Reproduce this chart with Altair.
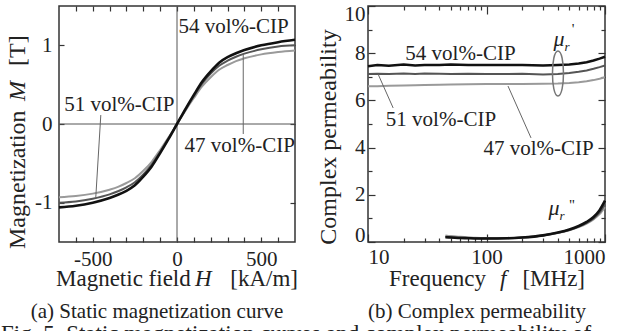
import altair as alt
import pandas as pd

FONT = "Liberation Serif"
INK = "#222222"

# ---------------- (a) static magnetization curves ----------------
H = [-700, -600, -500, -400, -350, -300, -250, -200, -150, -100, -50, 0,
     50, 100, 150, 200, 250, 300, 350, 400, 500, 600, 700]
M54 = [-1.06, -1.04, -1.0, -0.94, -0.9, -0.85, -0.78, -0.67, -0.54, -0.37, -0.19, 0.0,
       0.19, 0.37, 0.54, 0.67, 0.78, 0.85, 0.90, 0.94, 1.0, 1.04, 1.07]
M51 = [-1.0, -0.985, -0.95, -0.895, -0.855, -0.805, -0.74, -0.64, -0.515, -0.355, -0.18, 0.0,
       0.18, 0.355, 0.515, 0.64, 0.74, 0.805, 0.855, 0.895, 0.95, 0.985, 1.0]
M47 = [-0.93, -0.915, -0.885, -0.835, -0.8, -0.75, -0.69, -0.595, -0.48, -0.33, -0.17, 0.0,
       0.17, 0.33, 0.48, 0.595, 0.69, 0.75, 0.8, 0.835, 0.885, 0.915, 0.935]

# ---------------- (b) complex permeability ----------------
F1 = [10, 12, 15, 20, 25, 30, 40, 50, 70, 100, 150, 200, 300, 400, 500, 600, 700, 800, 900, 1000]
MU54 = [7.45, 7.5, 7.47, 7.52, 7.48, 7.5, 7.5, 7.52, 7.5, 7.5, 7.5, 7.5, 7.48, 7.5, 7.52, 7.56, 7.62, 7.69, 7.77, 7.85]
MU51 = [7.12, 7.13, 7.12, 7.14, 7.12, 7.14, 7.13, 7.12, 7.13, 7.12, 7.12, 7.13, 7.1, 7.12, 7.16, 7.21, 7.27, 7.34, 7.41, 7.48]
MU47 = [6.6, 6.6, 6.62, 6.63, 6.64, 6.65, 6.66, 6.67, 6.68, 6.69, 6.7, 6.7, 6.71, 6.72, 6.74, 6.77, 6.81, 6.86, 6.92, 6.98]

F2 = [45, 50, 60, 70, 80, 100, 150, 200, 300, 400, 500, 600, 700, 800, 900, 1000]
MI54 = [0.2, 0.19, 0.17, 0.16, 0.15, 0.15, 0.16, 0.19, 0.28, 0.4, 0.53, 0.68, 0.85, 1.06, 1.35, 1.75]
MI51 = [0.22, 0.2, 0.18, 0.17, 0.16, 0.15, 0.16, 0.19, 0.28, 0.39, 0.51, 0.65, 0.81, 1.0, 1.25, 1.6]
MI47 = [0.28, 0.25, 0.22, 0.2, 0.18, 0.17, 0.17, 0.2, 0.28, 0.38, 0.5, 0.63, 0.78, 0.96, 1.18, 1.48]

LABELS = ["54 vol%-CIP", "51 vol%-CIP", "47 vol%-CIP"]
COLORS = {"54": "#111111", "51": "#555555", "47": "#9a9a9a"}
WIDTHS = {"54": 2.6, "51": 2.0, "47": 2.0}

# annotation anchors (data coordinates)
A_TXT_H = [336, -342, 372]
A_TXT_M = [1.233, 0.241, -0.28]
A_LEAD = [(-452, 0.114, -482, -0.94), (393, 0.889, 393, -0.127)]

B_TXT_F = [60.3, 41.3, 274.7]
B_TXT_MU = [7.97, 5.17, 3.94]
B_LEAD = [(12.15, 7.12, 16.3, 5.68), (151.8, 6.61, 237.5, 4.41)]

one = pd.DataFrame({"k": [0]})
TICK_FS = 21


def ax(orient, values, labels=False, size=5, label_expr=None, pad=None, flush=False):
    kw = dict(orient=orient, values=values, tickSize={"expr": str(-size)},
              domain=False, grid=False, title=None, labels=labels,
              tickColor="#333333", tickWidth=1.2, labelFont=FONT,
              labelFontSize=TICK_FS, labelColor=INK)
    if label_expr:
        kw["labelExpr"] = label_expr
    if pad is not None:
        kw["labelPadding"] = pad
    if flush:
        kw["labelFlush"] = True
        kw["labelFlushOffset"] = 3
    return alt.Axis(**kw)


def txt(text, x, y, size=21, align="center", baseline="alphabetic", angle=0,
        italic=False, color=INK, opacity=1.0):
    kw = dict(text=text, font=FONT, fontSize=size, align=align, baseline=baseline,
              color=color, opacity=opacity)
    if angle:
        kw["angle"] = angle
    if italic:
        kw["fontStyle"] = "italic"
    return alt.Chart(one).mark_text(**kw).encode(x=alt.value(x), y=alt.value(y))


# ---------------- panel (a) ----------------
xa = alt.Scale(domain=[-700, 700], nice=False, zero=False)
ya = alt.Scale(domain=[-1.5, 1.5], nice=False, zero=False)
xa_vals = list(range(-600, 601, 100))


def mag_line(key, Ms, xaxis, yaxis):
    df = pd.DataFrame({"H": H, "M": Ms})
    return alt.Chart(df).mark_line(color=COLORS[key], strokeWidth=WIDTHS[key],
                                   interpolate="monotone").encode(
        x=alt.X("H:Q", scale=xa, axis=xaxis),
        y=alt.Y("M:Q", scale=ya, axis=yaxis))


cross_v = alt.Chart(pd.DataFrame({"H": [0]})).mark_rule(color="#555555", strokeWidth=1).encode(
    x=alt.X("H:Q", scale=xa, axis=None))
cross_h = alt.Chart(pd.DataFrame({"M": [0]})).mark_rule(color="#555555", strokeWidth=1).encode(
    y=alt.Y("M:Q", scale=ya, axis=None))

a_lead_df = pd.DataFrame(A_LEAD, columns=["x1", "y1", "x2", "y2"])
a_lead = alt.Chart(a_lead_df).mark_rule(color="#666666", strokeWidth=1).encode(
    x=alt.X("x1:Q", scale=xa, axis=None), y=alt.Y("y1:Q", scale=ya, axis=None),
    x2="x2:Q", y2="y2:Q")
a_txt_df = pd.DataFrame({"H": A_TXT_H, "M": A_TXT_M, "t": LABELS})
a_txt = alt.Chart(a_txt_df).mark_text(font=FONT, fontSize=21, color=INK,
                                      baseline="middle").encode(
    x=alt.X("H:Q", scale=xa, axis=None), y=alt.Y("M:Q", scale=ya, axis=None), text="t:N")

panel_a = alt.layer(
    cross_v, cross_h,
    mag_line("47", M47,
             ax("bottom", xa_vals, labels=True, pad=11,
                label_expr="datum.value % 500 == 0 ? toString(datum.value) : ''"),
             ax("left", [-1, 0, 1], labels=True, pad=12,
                label_expr="toString(datum.value)")),
    mag_line("51", M51, ax("top", xa_vals), ax("right", [-1, 0, 1])),
    mag_line("54", M54, None, None),
    a_lead, a_txt,
    # axis titles
    txt("Magnetic field", -3, 280, size=23, align="left"),
    txt("H", 136, 280, size=23, align="left", italic=True),
    txt("[kA/m]", 239, 280, size=23, align="right"),
    txt("Magnetization", -34, 243, size=24, align="left", angle=270),
    txt("M", -34, 95, size=24, align="left", angle=270, italic=True),
    txt("[T]", -34, 60, size=24, align="left", angle=270),
    # captions
    txt("(a) Static magnetization curve", 98, 306, size=21, baseline="middle"),
    txt("Fig. 5. Static magnetization curves and complex permeability of", -58, 335,
        size=23, align="left"),
    # phantom to pin the top-left corner
    txt(".", -58, -20, size=10, align="left", baseline="top", opacity=0),
).resolve_axis(x="independent", y="independent").properties(width=236, height=236)

# ---------------- panel (b) ----------------
xb = alt.Scale(type="log", domain=[10, 1000], nice=False)
yb = alt.Scale(domain=[0, 10], nice=False, zero=False)
XB_MAJ = [10, 100, 1000]
XB_MIN = [20, 30, 40, 50, 60, 70, 80, 90, 200, 300, 400, 500, 600, 700, 800, 900]
YB_MAJ = [0, 2, 4, 6, 8, 10]
YB_MIN = [1, 3, 5, 7, 9]


def perm_line(key, F, vals, xaxis, yaxis, interp="linear"):
    df = pd.DataFrame({"f": F, "mu": vals})
    return alt.Chart(df).mark_line(color=COLORS[key], strokeWidth=WIDTHS[key],
                                   interpolate=interp).encode(
        x=alt.X("f:Q", scale=xb, axis=xaxis),
        y=alt.Y("mu:Q", scale=yb, axis=yaxis))


b_lead_df = pd.DataFrame(B_LEAD, columns=["x1", "y1", "x2", "y2"])
b_lead = alt.Chart(b_lead_df).mark_rule(color="#666666", strokeWidth=1).encode(
    x=alt.X("x1:Q", scale=xb, axis=None), y=alt.Y("y1:Q", scale=yb, axis=None),
    x2="x2:Q", y2="y2:Q")
b_txt_df = pd.DataFrame({"f": B_TXT_F, "mu": B_TXT_MU, "t": LABELS})
b_txt = alt.Chart(b_txt_df).mark_text(font=FONT, fontSize=21, color=INK,
                                      baseline="middle").encode(
    x=alt.X("f:Q", scale=xb, axis=None), y=alt.Y("mu:Q", scale=yb, axis=None), text="t:N")

ELLIPSE = "M0,-1C0.326,-1 0.326,1 0,1C-0.326,1 -0.326,-1 0,-1Z"
ell = alt.Chart(pd.DataFrame({"f": [401], "mu": [7.14]})).mark_point(
    shape=ELLIPSE, size=2025, filled=False, color="#777777", strokeWidth=1.5, opacity=1).encode(
    x=alt.X("f:Q", scale=xb, axis=None), y=alt.Y("mu:Q", scale=yb, axis=None))

MU_SYM = pd.DataFrame({
    "f": [409, 478, 537, 371, 434, 527],
    "mu": [8.31, 8.09, 8.81, 1.14, 0.93, 1.36],
    "t": ["μ", "r", "'", "μ", "r", "''"],
    "s": [22, 13, 15, 22, 13, 15],
    "st": ["italic", "italic", "normal", "italic", "italic", "normal"],
})


def mu_sym(style):
    d = MU_SYM[MU_SYM["st"] == style]
    return alt.Chart(d).mark_text(font=FONT, color=INK, fontStyle=style,
                                  baseline="alphabetic").encode(
        x=alt.X("f:Q", scale=xb, axis=None), y=alt.Y("mu:Q", scale=yb, axis=None),
        text="t:N", size=alt.Size("s:Q", scale=None, legend=None))


panel_b = alt.layer(
    perm_line("47", F1, MU47,
              ax("bottom", XB_MAJ, labels=True, size=8, pad=12,
                 label_expr="toString(datum.value)"),
              ax("left", YB_MAJ, labels=True, size=7, pad=10, flush=True,
                 label_expr="toString(datum.value)")),
    perm_line("51", F1, MU51, ax("bottom", XB_MIN, size=4), ax("left", YB_MIN, size=4)),
    perm_line("54", F1, MU54, ax("top", XB_MAJ, size=8), ax("right", YB_MAJ, size=7)),
    perm_line("47", F2, MI47, ax("top", XB_MIN, size=4), ax("right", YB_MIN, size=4), "monotone"),
    perm_line("51", F2, MI51, None, None, "monotone"),
    perm_line("54", F2, MI54, None, None, "monotone"),
    b_lead, b_txt, ell, mu_sym("italic"), mu_sym("normal"),
    txt("Frequency", 21, 280, size=23, align="left"),
    txt("f", 132, 280, size=23, align="left", italic=True),
    txt("[MHz]", 217, 280, size=23, align="right"),
    txt("Complex permeability", -32, 131, size=24, align="center", angle=270),
    txt("(b) Complex permeability", 109, 306, size=21, baseline="middle"),
    txt(".", 261, 320, size=10, align="right", baseline="bottom", opacity=0),
).resolve_axis(x="independent", y="independent").properties(width=237, height=236)

chart = alt.hconcat(panel_a, panel_b, spacing=73, bounds="flush").properties(
    padding={"left": 0, "top": -15, "right": -2, "bottom": -15},
    autosize=alt.AutoSizeParams(type="pad"),
    background="white",
).configure_view(stroke="#333333", strokeWidth=1.5)

chart.save("out.html", embed_options={"renderer": "svg", "actions": False})
